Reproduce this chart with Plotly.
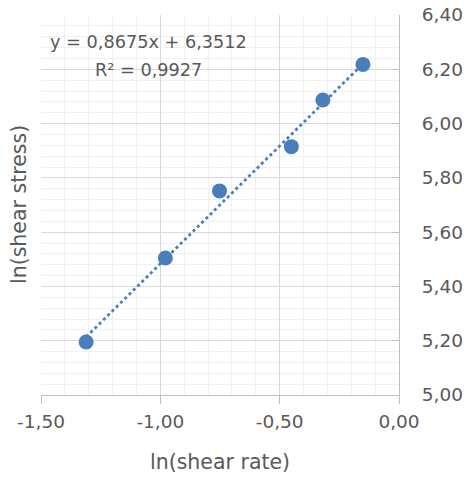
import plotly.graph_objects as go

# ln(shear rate) vs ln(shear stress)
ln_shear_rate = [-1.311, -0.979, -0.752, -0.451, -0.319, -0.151]
ln_shear_stress = [5.195, 5.505, 5.752, 5.915, 6.087, 6.218]

# linear trendline coefficients and fit quality
slope = 0.8675
intercept = 6.3512
r_squared = 0.9927

x_ticks = [-1.5, -1.0, -0.5, 0.0]
y_ticks = [5.0, 5.2, 5.4, 5.6, 5.8, 6.0, 6.2, 6.4]

blue = "#4A7EBB"
text_gray = "#595959"
font_family = "DejaVu Sans"

# plot area in pixels
W, H = 468, 486
L, R, T, B = 41, 69, 15, 91
PW, PH = W - L - R, H - T - B


def comma(v, nd):
    # decimal comma, plain hyphen for negatives
    return f"{v:.{nd}f}".replace(".", ",")


def px_x(px):
    return (px - L) / PW


def px_y(py):
    return (H - B - py) / PH


x_min, x_max = min(ln_shear_rate), max(ln_shear_rate)
trend_x = [x_min, x_max]
trend_y = [slope * v + intercept for v in trend_x]

fig = go.Figure()
fig.add_trace(go.Scatter(
    x=trend_x, y=trend_y, mode="lines",
    line=dict(color=blue, width=2.8, dash="dot"),
    hoverinfo="skip", showlegend=False,
))
fig.add_trace(go.Scatter(
    x=ln_shear_rate, y=ln_shear_stress, mode="markers",
    marker=dict(color=blue, size=15, line=dict(width=0)),
    showlegend=False,
))

# trendline label
fig.add_annotation(
    text=f"y = {comma(slope, 4)}x + {comma(intercept, 4)}",
    xref="paper", yref="paper", x=px_x(148.5), y=px_y(42),
    xanchor="center", yanchor="middle", showarrow=False,
    font=dict(family=font_family, size=17.7, color=text_gray),
)
fig.add_annotation(
    text=f"R² = {comma(r_squared, 4)}",
    xref="paper", yref="paper", x=px_x(148), y=px_y(70),
    xanchor="center", yanchor="middle", showarrow=False,
    font=dict(family=font_family, size=17.7, color=text_gray),
)

# axis titles
fig.add_annotation(
    text="ln(shear stress)", xref="paper", yref="paper",
    x=px_x(19), y=px_y(205), textangle=-90,
    xanchor="center", yanchor="middle", showarrow=False,
    font=dict(family=font_family, size=20.5, color=text_gray),
)
fig.add_annotation(
    text="ln(shear rate)", xref="paper", yref="paper",
    x=px_x(220), y=px_y(462),
    xanchor="center", yanchor="middle", showarrow=False,
    font=dict(family=font_family, size=20.5, color=text_gray),
)

fig.update_layout(
    width=W, height=H,
    margin=dict(l=L, r=R, t=T, b=B),
    paper_bgcolor="white", plot_bgcolor="white",
    font=dict(family=font_family, size=18, color=text_gray),
    xaxis=dict(
        range=[-1.5, 0.0], tickvals=x_ticks,
        ticktext=[comma(v, 2) for v in x_ticks],
        automargin=False,
        showgrid=True, gridcolor="#D9D9D9", gridwidth=1.3,
        minor=dict(dtick=0.1, showgrid=True, gridcolor="#F0F0F0", gridwidth=1.3),
        showline=True, linecolor="#BFBFBF", linewidth=1.3,
        ticks="outside", ticklen=8, tickcolor="#BFBFBF", tickwidth=1.3,
        zeroline=False,
        tickfont=dict(family=font_family, size=18.5, color=text_gray),
        ticklabelstandoff=2,
    ),
    yaxis=dict(
        range=[5.0, 6.4], tickvals=y_ticks,
        ticktext=[comma(v, 2) for v in y_ticks],
        side="right", automargin=False,
        showgrid=True, gridcolor="#D9D9D9", gridwidth=1.3,
        minor=dict(dtick=0.04, showgrid=True, gridcolor="#F0F0F0", gridwidth=1.3),
        showline=True, linecolor="#BFBFBF", linewidth=1.3,
        ticks="inside", ticklen=7, tickcolor="#BFBFBF", tickwidth=1.3,
        zeroline=False,
        tickfont=dict(family=font_family, size=18.5, color=text_gray),
        ticklabelstandoff=18,
    ),
)

fig.write_html("out.html")
